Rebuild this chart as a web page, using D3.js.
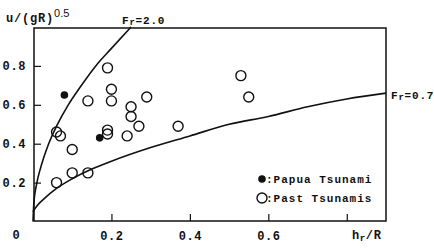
<!DOCTYPE html>
<html>
<head>
<meta charset="utf-8">
<script src="https://cdn.jsdelivr.net/npm/d3@7"></script>
<style>
  body { margin: 0; background: #fff; }
  svg { display: block; }
  .mono { font-family: "Liberation Mono", "DejaVu Sans Mono", monospace; font-weight: bold; fill: #111; }
</style>
</head>
<body>
<div id="chart"></div>
<script>
// tsunami run-up velocity data: hr/R vs u/(gR)^0.5
const pastH = [0.19, 0.14, 0.20, 0.20, 0.25, 0.25, 0.29, 0.06, 0.07, 0.19, 0.19, 0.24, 0.27, 0.37, 0.10, 0.10, 0.14, 0.06, 0.53, 0.55];
const pastU = [0.79, 0.62, 0.68, 0.62, 0.59, 0.54, 0.64, 0.46, 0.44, 0.47, 0.45, 0.44, 0.49, 0.49, 0.37, 0.25, 0.25, 0.20, 0.75, 0.64];
const papuaH = [0.08, 0.17];
const papuaU = [0.65, 0.43];

// Froude number curves
const fr20H = [0, 0.002, 0.01, 0.02, 0.04, 0.06, 0.09, 0.12, 0.16, 0.2, 0.25];
const fr20U = [0, 0.09, 0.2, 0.28, 0.4, 0.49, 0.6, 0.69, 0.8, 0.89, 1.0];
const fr07H = [0, 0.003, 0.01, 0.03, 0.06, 0.1, 0.15, 0.2, 0.3, 0.4, 0.5, 0.6, 0.7, 0.8, 0.9];
const fr07U = [0.05, 0.06, 0.08, 0.12, 0.17, 0.22, 0.27, 0.31, 0.38, 0.44, 0.5, 0.54, 0.59, 0.63, 0.66];

const xTicks = [0.2, 0.4, 0.6, 0.8];
const xTickLabels = ['0.2', '0.4', '0.6', ''];
const yTicks = [0.2, 0.4, 0.6, 0.8];

const width = 434, height = 248;
const plotLeft = 34, plotRight = 386, plotTop = 28, plotBottom = 221;

const svg = d3.select('#chart').append('svg')
    .attr('width', width)
    .attr('height', height);

const x = d3.scaleLinear().domain([0, 0.9]).range([33, 386]);
const y = d3.scaleLinear().domain([0, 1]).range([221.5, 27]);

// frame
svg.append('rect')
    .attr('x', plotLeft).attr('y', plotTop)
    .attr('width', plotRight - plotLeft).attr('height', plotBottom - plotTop)
    .attr('fill', 'none').attr('stroke', '#111').attr('stroke-width', 1.5);

// axes with inward ticks
const gx = svg.append('g')
    .attr('transform', `translate(0,${plotBottom})`)
    .call(d3.axisBottom(x).tickValues(xTicks)
        .tickFormat((d, i) => xTickLabels[i])
        .tickSize(-7).tickPadding(10));
const gy = svg.append('g')
    .attr('transform', `translate(${plotLeft},0)`)
    .call(d3.axisLeft(y).tickValues(yTicks)
        .tickFormat(d3.format('.1f'))
        .tickSize(-7).tickPadding(8));
[gx, gy].forEach(g => {
    g.select('.domain').remove();
    g.selectAll('line').attr('stroke', '#111').attr('stroke-width', 1.2);
    g.selectAll('text')
        .attr('class', 'mono')
        .style('font-size', '12px')
        .style('letter-spacing', '0.6px');
});

// origin label
svg.append('text').attr('class', 'mono')
    .attr('x', 16).attr('y', 239)
    .attr('text-anchor', 'middle')
    .style('font-size', '12px')
    .text('0');

// x title
const xt = svg.append('text').attr('class', 'mono')
    .attr('x', 352).attr('y', 239)
    .style('font-size', '12px').style('letter-spacing', '0.6px');
xt.append('tspan').text('h');
xt.append('tspan').attr('dy', 2).style('font-size', '9px').text('r');
xt.append('tspan').attr('dy', -2).text('/R');

// y title
const yt = svg.append('text').attr('class', 'mono')
    .attr('x', 6).attr('y', 22)
    .style('font-size', '12px').style('letter-spacing', '0.8px');
yt.append('tspan').text('u/(gR)');
yt.append('tspan').attr('dy', -5)
    .style('font-family', '"Liberation Sans", Arial, sans-serif')
    .style('font-size', '11px').style('font-weight', 'normal')
    .style('letter-spacing', '0px')
    .text('0.5');

// Froude curves
const line = d3.line().x(d => x(d[0])).y(d => y(d[1])).curve(d3.curveMonotoneX);
const curves = [
    {h: fr20H, u: fr20U},
    {h: fr07H, u: fr07U}
];
svg.append('g').selectAll('path')
    .data(curves)
    .enter().append('path')
    .attr('d', c => line(c.h.map((h, i) => [h, c.u[i]])))
    .attr('fill', 'none')
    .attr('stroke', '#111')
    .attr('stroke-width', 1.6);

// curve labels
function frLabel(px, py, value) {
    const t = svg.append('text').attr('class', 'mono')
        .attr('x', px).attr('y', py)
        .style('font-size', '11px').style('letter-spacing', '0.8px');
    t.append('tspan').text('F');
    t.append('tspan').attr('dy', 1).style('font-size', '9px').text('r');
    t.append('tspan').attr('dy', -1).text('=' + value);
}
frLabel(122, 24, '2.0');
frLabel(391, 99, '0.7');

// data points
svg.append('g').selectAll('circle')
    .data(pastH.map((h, i) => [h, pastU[i]]))
    .enter().append('circle')
    .attr('cx', d => x(d[0]))
    .attr('cy', d => y(d[1]))
    .attr('r', 5)
    .attr('fill', 'none')
    .attr('stroke', '#111')
    .attr('stroke-width', 1.4);
svg.append('g').selectAll('circle')
    .data(papuaH.map((h, i) => [h, papuaU[i]]))
    .enter().append('circle')
    .attr('cx', d => x(d[0]))
    .attr('cy', d => y(d[1]))
    .attr('r', 3.8)
    .attr('fill', '#111');

// legend
const legend = svg.append('g');
legend.append('circle').attr('cx', 262).attr('cy', 179).attr('r', 3.8).attr('fill', '#111');
legend.append('circle').attr('cx', 262).attr('cy', 198).attr('r', 5)
    .attr('fill', 'none').attr('stroke', '#111').attr('stroke-width', 1.4);
legend.append('text').attr('class', 'mono')
    .attr('x', 266).attr('y', 183)
    .style('font-size', '11px').style('letter-spacing', '1px')
    .text(':Papua Tsunami');
legend.append('text').attr('class', 'mono')
    .attr('x', 266).attr('y', 202)
    .style('font-size', '11px').style('letter-spacing', '1px')
    .text(':Past Tsunamis');
</script>
</body>
</html>
